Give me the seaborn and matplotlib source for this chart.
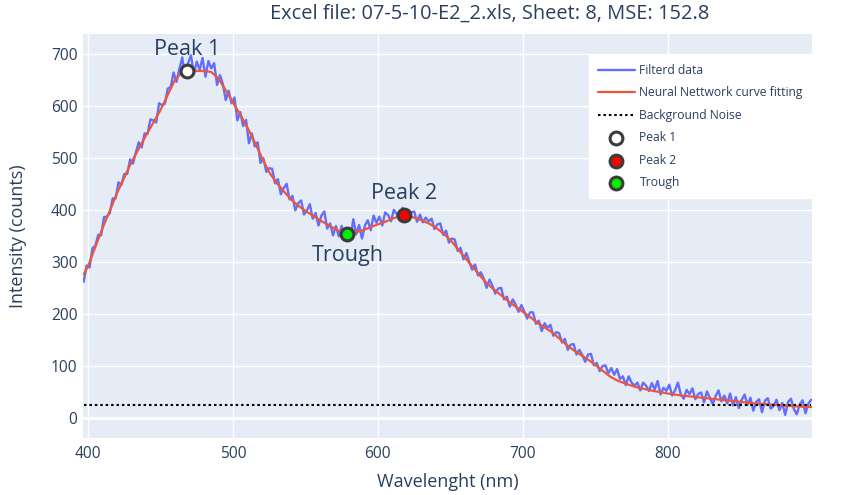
import numpy as np
import pandas as pd
import matplotlib
matplotlib.use("Agg")
import matplotlib.pyplot as plt
import seaborn as sns

# Spectrometer sampling grid (nm)
wl_start, wl_stop, wl_step = 397, 899, 2

# Filtered intensity readings, one per sample on the grid
filtered_counts = [
    262, 293, 289, 326, 331, 352, 351, 386, 387, 394, 422, 422, 453, 448, 469,
    469, 497, 489, 511, 530, 520, 547, 546, 574, 572, 568, 605, 601, 604, 633,
    636, 664, 646, 671, 693, 654, 682, 697, 661, 685, 669, 692, 656, 686, 672,
    682, 640, 659, 642, 611, 629, 605, 616, 572, 588, 561, 573, 528, 547, 522,
    530, 490, 499, 473, 480, 479, 451, 459, 430, 442, 450, 420, 427, 399, 413,
    418, 391, 399, 411, 383, 394, 370, 389, 397, 364, 374, 351, 369, 349, 369,
    341, 361, 344, 382, 353, 371, 345, 370, 380, 361, 389, 375, 387, 370, 395,
    390, 378, 400, 392, 380, 404, 394, 379, 395, 397, 377, 391, 376, 385, 378,
    383, 363, 372, 374, 352, 360, 337, 345, 343, 321, 327, 305, 317, 300, 285,
    295, 274, 280, 268, 250, 266, 254, 239, 249, 250, 228, 233, 214, 228, 218,
    204, 217, 204, 191, 203, 203, 181, 187, 167, 182, 173, 179, 158, 165, 163,
    145, 152, 131, 141, 142, 122, 131, 121, 108, 122, 123, 101, 106, 90, 100,
    101, 86, 96, 83, 94, 75, 80, 63, 80, 68, 62, 68, 53, 68, 62,
    52, 67, 55, 71, 45, 58, 52, 64, 43, 53, 68, 45, 37, 54, 46,
    57, 36, 46, 49, 30, 51, 39, 27, 42, 53, 32, 43, 28, 47, 24,
    40, 19, 35, 45, 25, 39, 14, 31, 36, 11, 33, 38, 18, 23, 35,
    15, 29, 6, 31, 37, 17, 7, 26, 34, 9, 28, 35,
]

# Neural network fit evaluated at these wavelengths
fit_nm = [
    397, 400, 410, 420, 430, 440, 450, 460, 465, 470, 480, 485, 490, 495,
    500, 505, 510, 515, 520, 525, 530, 535, 540, 545, 550, 555, 560, 565,
    570, 575, 579, 585, 590, 595, 600, 605, 610, 615, 618, 625, 630, 635,
    640, 645, 650, 655, 660, 665, 670, 675, 680, 685, 690, 695, 700, 705,
    710, 715, 720, 725, 730, 735, 740, 745, 750, 755, 760, 765, 770, 775,
    780, 790, 800, 810, 820, 830, 840, 850, 860, 870, 880, 890, 899,
]
fit_counts = [
    276, 292, 365, 432, 492, 543, 592, 650, 665, 667, 667, 665, 652, 630,
    606, 583, 558, 530, 500, 472, 452, 436, 420, 408, 398, 389, 380, 372,
    364, 357, 353, 357, 361, 367, 372, 377, 383, 388, 391, 385, 380, 374,
    366, 355, 342, 325, 308, 292, 275, 259, 247, 236, 224, 214, 204, 194,
    183, 174, 165, 153, 141, 130, 121, 112, 102, 91, 80, 72, 67, 62,
    58, 52, 47, 43, 40, 37, 34, 31, 28, 26, 24, 22, 21,
]

noise_level = 25

point_names = ["Peak 1", "Peak 2", "Trough"]
point_nm = [468, 618, 579]
point_counts = [667, 391, 353]
point_fill = ["#ffffff", "#ff0000", "#00ee00"]
point_text_side = ["above", "above", "below"]

title_text = "Excel file: 07-5-10-E2_2.xls, Sheet: 8, MSE: 152.8"

# ---------------------------------------------------------------------------
text_col = "#2a3f5f"
sns.set_theme(style="darkgrid", rc={
    "axes.facecolor": "#e5ecf6",
    "grid.color": "white",
    "grid.linewidth": 1.0,
    "axes.edgecolor": "#e5ecf6",
})
plt.rcParams["font.family"] = ["Open Sans", "DejaVu Sans"]

wavelengths = np.arange(wl_start, wl_stop + 1, wl_step)
spec = pd.DataFrame({"nm": wavelengths, "counts": filtered_counts})
fit = pd.DataFrame({"nm": fit_nm, "counts": fit_counts})
noise = pd.DataFrame({"nm": [wl_start, wl_stop], "counts": [noise_level, noise_level]})

fig = plt.figure(figsize=(8.48, 4.95), dpi=100)
ax = fig.add_axes([83 / 848, 1 - 438 / 495, 729 / 848, 404 / 495])

sns.lineplot(data=spec, x="nm", y="counts", ax=ax, color="#636efa",
             linewidth=1.7, estimator=None, label="Filterd data")
sns.lineplot(data=fit, x="nm", y="counts", ax=ax, color="#ef553b",
             linewidth=1.6, estimator=None, label="Neural Nettwork curve fitting")
sns.lineplot(data=noise, x="nm", y="counts", ax=ax, color="black",
             linewidth=1.5, linestyle=(0, (1.2, 1.4)), estimator=None,
             label="Background Noise")

for name, xv, yv, fc, side in zip(point_names, point_nm, point_counts,
                                  point_fill, point_text_side):
    sns.scatterplot(x=[xv], y=[yv], ax=ax, s=85, color=fc,
                    edgecolor="#3b3b3b", linewidth=2.2, zorder=5, label=name)
    dy = 15.5 if side == "above" else -15
    ax.annotate(name, (xv, yv), xytext=(0, dy), textcoords="offset points",
                ha="center", va="center", fontsize=15.5, color=text_col)

ax.axhline(0, color="white", linewidth=2.0, zorder=0.6)

ax.set_xlim(396.5, 899.5)
ax.set_ylim(-38.5, 738)
ax.set_xticks([400, 500, 600, 700, 800])
ax.set_yticks([0, 100, 200, 300, 400, 500, 600, 700])
ax.tick_params(axis="both", length=0, labelsize=11.2, labelcolor=text_col)
ax.tick_params(axis="y", pad=4)
ax.tick_params(axis="x", pad=6)
for s in ax.spines.values():
    s.set_visible(False)

ax.set_xlabel("Wavelenght (nm)", fontsize=13, color=text_col)
ax.set_ylabel("Intensity (counts)", fontsize=13, color=text_col)
ax.xaxis.set_label_coords(0.5, -0.086)
ax.yaxis.set_label_coords(-0.077, 0.5)

fig.text(490 / 848, 1 - 14 / 495, title_text, ha="center", va="center",
         fontsize=14.4, color=text_col)

leg = ax.legend(loc="upper right", bbox_to_anchor=(1.0, 0.948),
                frameon=True, fancybox=False, framealpha=1.0,
                facecolor="white", edgecolor="white", fontsize=8.7,
                handlelength=3.0, labelspacing=0.78, borderpad=0.75,
                handletextpad=0.4, borderaxespad=0.0)
for t in leg.get_texts():
    t.set_color(text_col)

fig.savefig("out.png", dpi=100)
